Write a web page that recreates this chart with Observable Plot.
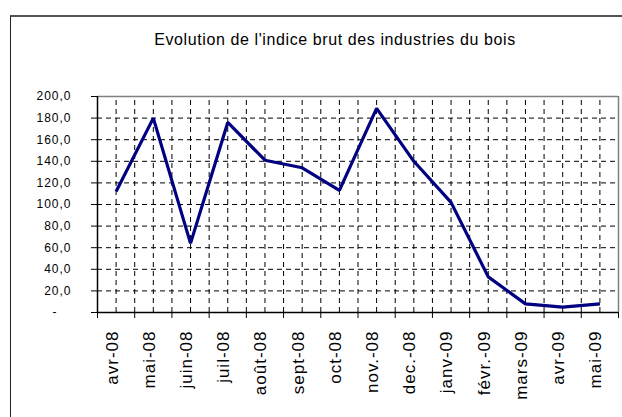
<!DOCTYPE html>
<html>
<head>
<meta charset="utf-8">
<script src="https://cdn.jsdelivr.net/npm/d3@7"></script>
<script src="https://cdn.jsdelivr.net/npm/@observablehq/plot@0.6"></script>
<style>
  html, body { margin: 0; padding: 0; background: #fff; }
  #wrap { position: relative; width: 622px; height: 417px; overflow: hidden; background: #fff; font-family: "Liberation Sans", Arial, sans-serif; }
  #box { position: absolute; left: 10px; top: 15px; width: 720px; height: 520px; border-left: 1.5px solid #222; border-top: 2px solid #555; }
  #title { position: absolute; left: 0; top: 32px; width: 670px; text-align: center; font-size: 16px; line-height: 16px; letter-spacing: 0.6px; color: #000; }
  #chart { position: absolute; left: 0; top: 0; }
  #chart svg text { letter-spacing: 1px; }
</style>
</head>
<body>
<div id="wrap">
  <div id="box"></div>
  <div id="chart"></div>
  <div id="title">Evolution de l'indice brut des industries du bois</div>
</div>
<script>
const months = ["avr-08", "mai-08", "juin-08", "juil-08", "août-08", "sept-08", "oct-08", "nov.-08", "dec.-08", "janv-09", "févr.-09", "mars-09", "avr-09", "mai-09"];
const values = [112, 180, 64, 176, 141, 134, 113, 189, 140, 102, 33, 8, 5, 8];
const yTicks = [0, 20, 40, 60, 80, 100, 120, 140, 160, 180, 200];

const idx = months.map((_, i) => i);
const bounds = d3.range(-0.5, months.length, 1);          // category boundaries
const gridX = d3.range(0, months.length - 0.5, 0.5);       // dashed verticals
const gridY = yTicks.filter(v => v > 0 && v < 200);        // dashed horizontals
const xMin = -0.5, xMax = months.length - 0.5;

const fmt = d => d === 0 ? "-\u2002\u2002" : d.toFixed(1).replace(".", ",");
const dash = {stroke: "#000", strokeWidth: 1, strokeDasharray: "5,4"};

const chart = Plot.plot({
  width: 622,
  height: 417,
  marginLeft: 97,
  marginRight: 4,
  marginTop: 96,
  marginBottom: 105,
  style: {fontFamily: "'Liberation Sans', Arial, sans-serif", background: "none", color: "#000"},
  x: {domain: [xMin, xMax], axis: null},
  y: {domain: [0, 200], axis: null},
  marks: [
    Plot.ruleX(gridX, {y1: 0, y2: 200, ...dash}),
    Plot.ruleY(gridY, {x1: xMin, x2: xMax, ...dash}),
    Plot.ruleY([200], {x1: xMin, x2: xMax, stroke: "#808080", strokeWidth: 1.5}),
    Plot.ruleX([xMax], {y1: 0, y2: 200, stroke: "#808080", strokeWidth: 1.5}),
    Plot.ruleX([xMin], {y1: 0, y2: 200, stroke: "#000", strokeWidth: 1.5}),
    Plot.ruleY([0], {x1: xMin, x2: xMax, stroke: "#000", strokeWidth: 1.5}),
    Plot.axisY(yTicks, {tickSize: 6, tickPadding: 20, tickFormat: fmt, fontSize: 12, label: null}),
    Plot.axisX(bounds, {tickSize: 6, tickFormat: () => "", label: null}),
    Plot.text(months, {x: (d, i) => idx[i], y: 0, text: d => d, rotate: -90, textAnchor: "end", lineAnchor: "middle", dy: 18, dx: -4, fontSize: 17, fill: "#000"}),
    Plot.line(values, {x: (d, i) => idx[i], y: d => d, stroke: "#000080", strokeWidth: 3.2, strokeLinejoin: "miter", strokeLinecap: "butt"})
  ]
});
document.getElementById("chart").appendChild(chart);
</script>
</body>
</html>
